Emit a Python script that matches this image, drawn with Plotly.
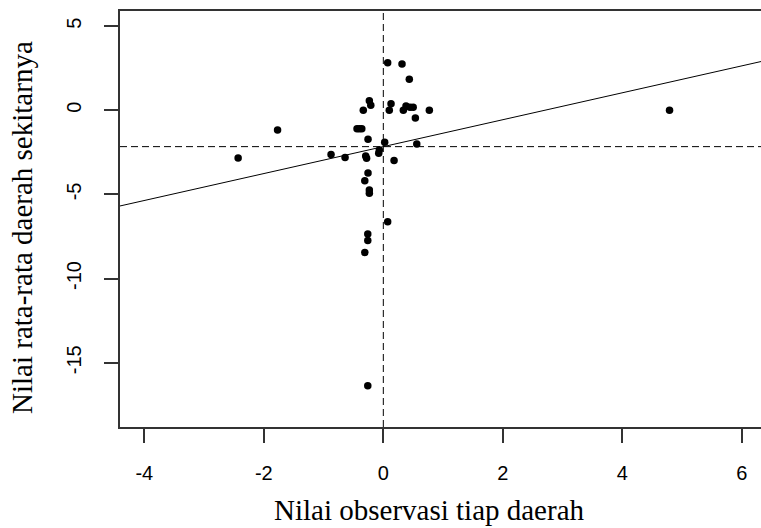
import plotly.graph_objects as go

# Data (Moran scatterplot)
obs_x = [0.073, 0.313, 0.435, -0.234, -0.21, -0.335, 0.129, 0.10, 0.335, 0.38,
         0.447, 0.50, 0.77, 0.536, 4.79, -1.77, -0.44, -0.40, -0.36, -0.256,
         0.023, 0.56, -0.067, -0.077, -0.875, -0.64, -0.295, -0.28, 0.18, -0.256,
         -0.31, -0.234, -0.234, 0.073, -0.26, -0.26, -0.31, -0.26, -2.43]
lag_y = [2.83, 2.75, 1.84, 0.57, 0.30, 0.0, 0.39, 0.0, 0.0, 0.26,
         0.18, 0.18, 0.0, -0.46, 0.0, -1.17, -1.09, -1.09, -1.09, -1.72,
         -1.90, -2.0, -2.36, -2.55, -2.63, -2.81, -2.71, -2.85, -2.99, -3.72,
         -4.18, -4.73, -4.93, -6.63, -7.35, -7.74, -8.45, -16.37, -2.83]

mean_x = 0.0
mean_y = -2.16
fit_intercept = -2.16
fit_slope = 0.80

x_ticks = [-4, -2, 0, 2, 4, 6]
y_ticks = [5, 0, -5, -10, -15]
x_range = [-4.407, 6.321]
y_range = [-18.82, 5.90]

x_title = "Nilai observasi tiap daerah"
y_title = "Nilai rata-rata daerah sekitarnya"

fig = go.Figure()

# regression line
fig.add_trace(go.Scatter(
    x=x_range,
    y=[fit_intercept + fit_slope * v for v in x_range],
    mode="lines", line=dict(color="black", width=1), hoverinfo="skip"))

# points
fig.add_trace(go.Scatter(
    x=obs_x, y=lag_y, mode="markers",
    marker=dict(color="black", size=7.5, line=dict(width=0))))

# mean lines
fig.add_shape(type="line", xref="x", yref="paper", x0=mean_x, x1=mean_x, y0=0, y1=1,
              line=dict(color="black", width=1, dash="7px,4px"))
fig.add_shape(type="line", xref="paper", yref="y", x0=0, x1=1, y0=mean_y, y1=mean_y,
              line=dict(color="black", width=1, dash="7px,4px"))

tick_font = dict(family="Liberation Sans, Arial, sans-serif", size=20, color="black")
title_font = dict(family="Liberation Serif, Times New Roman, serif", size=29, color="black")

fig.update_layout(
    width=761, height=528,
    margin=dict(l=120, r=0, t=11, b=101),
    paper_bgcolor="white", plot_bgcolor="white",
    showlegend=False,
    xaxis=dict(range=x_range, tickvals=x_ticks, ticktext=[str(v) for v in x_ticks],
               showgrid=False, zeroline=False, showline=True, linecolor="#333",
               linewidth=1.5, mirror=True, ticks="outside", ticklen=14, tickwidth=1.5,
               tickcolor="#333", tickfont=tick_font, ticklabelstandoff=13),
    yaxis=dict(range=y_range, tickvals=y_ticks, ticktext=[str(v) for v in y_ticks],
               showgrid=False, zeroline=False, showline=True, linecolor="#333",
               linewidth=1.5, mirror=False, ticks="outside", ticklen=14, tickwidth=1.5,
               tickcolor="#333", tickfont=tick_font, tickangle=-90, ticklabelstandoff=15),
)

fig.add_annotation(text=x_title, xref="paper", yref="paper", x=(429 - 120) / 641,
                   y=-(510 - 427) / 416, xanchor="center", yanchor="middle",
                   showarrow=False, font=title_font)
fig.add_annotation(text=y_title, xref="paper", yref="paper", x=-(120 - 22) / 641,
                   y=(427 - 228) / 416, xanchor="center", yanchor="middle",
                   textangle=-90, showarrow=False, font=title_font)

fig.write_html("out.html", config={"displayModeBar": False},
               post_script="document.body.style.margin='0';")
